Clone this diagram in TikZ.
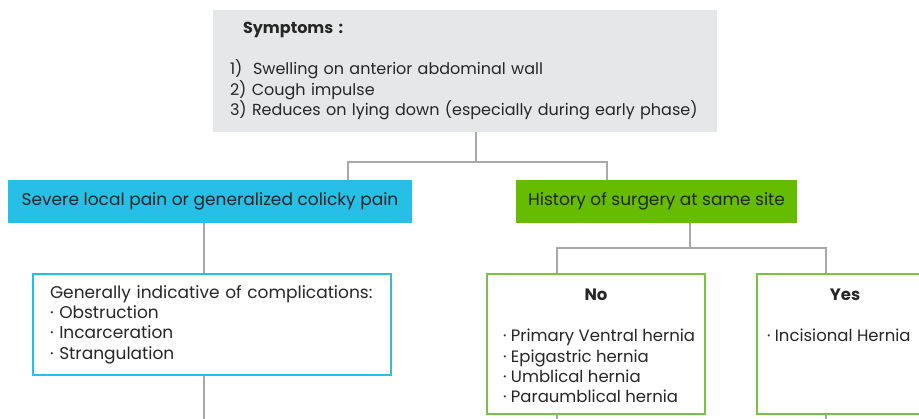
\documentclass[tikz,border=0pt]{standalone}
\usepackage{fontspec}
\setmainfont{Poppins}
\usepackage{xcolor}
\usetikzlibrary{calc}
\definecolor{symgray}{HTML}{E6E7E8}
\definecolor{painblue}{HTML}{27BFE6}
\definecolor{surggreen}{HTML}{66BC00}
\definecolor{edgegreen}{HTML}{7CC242}
\definecolor{linkgray}{HTML}{A7A9AC}
\definecolor{inkgray}{HTML}{262626}
\tikzset{
  flowlink/.style={draw=linkgray, line width=2pt},
  flowbox/.style={rectangle, inner sep=0pt, align=center, text=inkgray},
}

\begin{document}
\begin{tikzpicture}[
  x=1pt, y=-1pt,
  font=\fontsize{17}{20.3}\selectfont,
  hdr/.style={flowbox, minimum height=43pt},
  outline/.style={flowbox, fill=white, line width=2.5pt},
  branch/.style={outline, draw=edgegreen, minimum height=140pt, font=\fontsize{16.5}{20.3}\selectfont},
]
  \useasboundingbox (0,0) rectangle (919,419);
  \clip (0,0) rectangle (919,419);

  \node[flowbox, fill=symgray, minimum width=504pt, minimum height=122pt, align=left, text width=470pt,
    font=\fontsize{16}{19}\selectfont] (sym) at (465,71)
    {\hspace*{13pt}\textbf{Symptoms :}\\[21pt]1)\ \ Swelling on anterior abdominal wall\\2) Cough impulse\\3) Reduces on lying down (especially during early phase)};
  \node[hdr, fill=painblue, minimum width=404pt] (pain) at (210,201.5) {Severe local pain or generalized colicky pain};
  \node[hdr, fill=surggreen, minimum width=281pt] (surg) at (656.5,201.5) {History of surgery at same site};
  \node[outline, draw=painblue, minimum width=358pt, minimum height=101pt, align=left, text width=324pt] (compl) at (212,324.5)
    {Generally indicative of complications:\\· Obstruction\\· Incarceration\\· Strangulation};
  \node[branch, minimum width=218pt] (no) at (596,344)
    {\parbox[c][116pt][t]{186pt}{\vspace*{3pt}\centering\textbf{No}\par\vspace{21pt}\raggedright
      \mbox{· Primary Ventral hernia}\\\mbox{· Epigastric hernia}\\\mbox{· Umblical hernia}\\\mbox{· Paraumblical hernia}}};
  \node[branch, minimum width=176pt] (yes) at (845,344)
    {\parbox[c][116pt][t]{156pt}{\vspace*{3pt}\centering\textbf{Yes}\par\vspace{21pt}\raggedright
      \mbox{· Incisional Hernia}}};

  \coordinate (symfork) at (476,162);
  \coordinate (surgfork) at (690,248);
  \coordinate (leftend) at (204,425);
  \draw[flowlink] (sym.south -| symfork) -- (symfork);
  \draw[flowlink] (pain.north -| 348,0) |- (symfork) -| (surg.north -| 607,0);
  \draw[flowlink] (pain.south -| leftend) -- (compl.north -| leftend);
  \draw[flowlink] (compl.south -| leftend) -- (leftend);
  \draw[flowlink] (surg.south -| surgfork) -- (surgfork);
  \draw[flowlink] (no.north -| 557,0) |- (surgfork) -| (yes.north -| 826,0);
  \draw[flowlink] (no.south -| 557,0) -- ++(0,12);
  \draw[flowlink] (yes.south -| 826,0) -- ++(0,12);
\end{tikzpicture}
\end{document}
